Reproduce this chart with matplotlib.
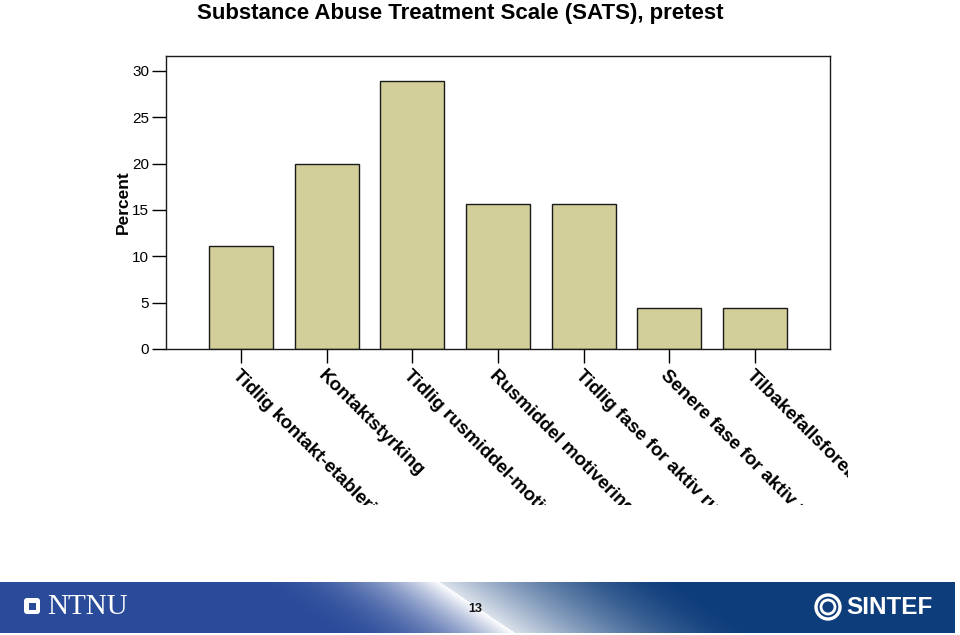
import numpy as np
import matplotlib
matplotlib.use("Agg")
import matplotlib.pyplot as plt
from matplotlib.patches import Rectangle, FancyBboxPatch, Circle

plt.rcParams['font.family'] = ['Liberation Sans', 'DejaVu Sans']

categories = ["Tidlig kontakt-etablering", "Kontaktstyrking",
              "Tidlig rusmiddel-motivering", "Rusmiddel motivering",
              "Tidlig fase for aktiv rusmiddelbehandling",
              "Senere fase for aktiv rusmiddelbehandling",
              "Tilbakefallsforebygging"]
percent = [11.1, 20.0, 28.9, 15.6, 15.6, 4.4, 4.4]
yticks = [0, 5, 10, 15, 20, 25, 30]

W, H = 960, 635
fig = plt.figure(figsize=(W / 100, H / 100), dpi=100)

ax = fig.add_axes([166 / W, (H - 349) / H, 664 / W, 293 / H])
x = np.arange(len(categories))
ax.bar(x, percent, width=0.75, color='#d3cf9a', edgecolor='#1a1a1a', linewidth=1.0)
ax.set_xlim(-0.875, 6.875)
ax.set_ylim(0, 31.6)
ax.set_yticks(yticks)
ax.set_yticklabels([str(t) for t in yticks], fontsize=11)
ax.set_xticks(x)
ax.set_xticklabels(categories, rotation=-45, ha='left', va='top',
                   rotation_mode='anchor', fontsize=13.5, fontweight='bold')
ax.tick_params(axis='y', length=10, width=1, pad=2)
ax.tick_params(axis='x', length=10, width=1, pad=3)
for s in ax.spines.values():
    s.set_linewidth(1.0)
    s.set_color('#1a1a1a')
ax.set_ylabel('Percent', fontsize=12.5, fontweight='bold', labelpad=1)

# category labels run off the slide area, clip them like the original
clip = Rectangle((0, (H - 505) / H), 848 / W, 1, transform=fig.transFigure,
                 facecolor='none', edgecolor='none')
fig.add_artist(clip)
clip.set_visible(False)
for lab in ax.get_xticklabels():
    lab.set_clip_on(True)
    lab.set_clip_path(clip)

fig.text(460 / W, 1 - 13 / H, 'Substance Abuse Treatment Scale (SATS), pretest',
         ha='center', va='center', fontsize=16, fontweight='bold')

# footer band
fax = fig.add_axes([0, 2 / H, 955 / W, 51 / H])
fax.set_axis_off()
nx, ny = 955, 51
xx, yy = np.meshgrid(np.arange(nx), np.arange(ny))
line_x = 440 + (yy / ny) * 75
d = xx - line_x
left_c = np.array([0x2a, 0x4b, 0x9a]) / 255
right_c = np.array([0x0e, 0x3d, 0x7b]) / 255
white = np.array([1.0, 1.0, 1.0])
tl = np.clip(1 + d / 200.0, 0, 1) ** 2.4
tl = np.where(d < 0, tl, 0)
tr = np.clip(1 - d / 240.0, 0, 1) ** 1.6 * 0.85
tr = np.where(d >= 0, tr, 0)
base = np.where(d[..., None] < 0, left_c, right_c)
t = (tl + tr)[..., None]
img = base * (1 - t) + white * t
fax.imshow(img, aspect='auto', extent=(0, nx, ny, 0))
fax.set_xlim(0, nx)
fax.set_ylim(ny, 0)

fax.add_patch(FancyBboxPatch((24, 16), 16, 16, boxstyle='round,pad=0,rounding_size=3',
                             facecolor='white', edgecolor='none'))
fax.add_patch(Rectangle((28.5, 20.5), 7, 7, facecolor='#2a4b9a', edgecolor='none'))
fax.text(47, 25, 'NTNU', color='white', fontsize=21, family='Liberation Serif',
         va='center', ha='left')
fax.text(475, 27, '13', color='#111111', fontsize=9, fontweight='bold',
         ha='center', va='center')
fax.add_patch(Circle((828, 25), 12, facecolor='none', edgecolor='white', linewidth=2.4))
fax.add_patch(Circle((828, 25), 7, facecolor='none', edgecolor='white', linewidth=2))
fax.text(846, 25, 'SINTEF', color='white', fontsize=17.5, fontweight='bold',
         ha='left', va='center')

fig.savefig('out.png', dpi=100)
